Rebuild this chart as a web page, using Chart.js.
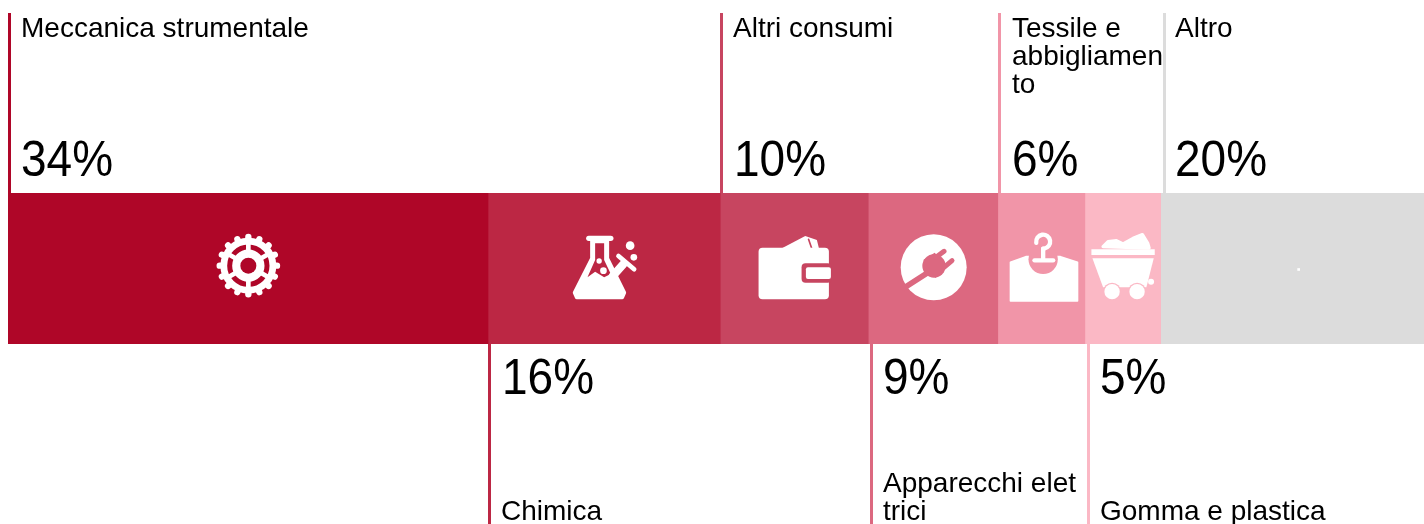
<!DOCTYPE html>
<html>
<head>
<meta charset="utf-8">
<title>Settori</title>
<script src="https://cdn.jsdelivr.net/npm/chart.js@4"></script>
<style>
  html, body { margin: 0; padding: 0; background: #fff; overflow: hidden; }
  canvas { display: block; }
</style>
</head>
<body>
<canvas id="sectorChart" width="1424" height="524"></canvas>
<script>
const categories = ['Meccanica strumentale', 'Chimica', 'Altri consumi', 'Apparecchi elettrici', 'Tessile e abbigliamento', 'Gomma e plastica', 'Altro'];
const shares = [33.9, 16.4, 10.45, 9.15, 6.15, 5.35, 18.6];
const percentLabels = ['34%', '16%', '10%', '9%', '6%', '5%', '20%'];
const categoryLines = [
  ['Meccanica strumentale'],
  ['Chimica'],
  ['Altri consumi'],
  ['Apparecchi elet', 'trici'],
  ['Tessile e', 'abbigliamen', 'to'],
  ['Gomma e plastica'],
  ['Altro']
];
const colors = ['#af0628', '#bc2744', '#c74560', '#dc6880', '#f195a8', '#fbb8c5', '#dcdcdc'];

const LINE_W = 3;
const lineNudge = [0, 0, 0, 2, 0, 2, 2];
const textNudge = [0, 0, 0, 0, 1, 0, -1];
const percentNudge = [0, 1, 1, 0, 0, 0, 0];
const LABEL_FONT = '28px "Liberation Sans"';
const PERCENT_FONT = '46px "Liberation Sans"';

// icons are drawn in a 3x grid, (ox, oy) is the middle of the segment
function withGrid(ctx, cx, cy, ox, oy, draw) {
  ctx.save();
  ctx.translate(cx, cy);
  ctx.scale(1 / 3, 1 / 3);
  ctx.translate(-ox, -oy);
  ctx.lineCap = 'round';
  ctx.lineJoin = 'round';
  draw();
  ctx.restore();
}

function circle(ctx, x, y, r, color) {
  ctx.fillStyle = color;
  ctx.beginPath();
  ctx.arc(x, y, r, 0, Math.PI * 2);
  ctx.fill();
}

function poly(ctx, pts, color, round) {
  ctx.fillStyle = color;
  ctx.beginPath();
  pts.forEach((p, i) => i ? ctx.lineTo(p[0], p[1]) : ctx.moveTo(p[0], p[1]));
  ctx.closePath();
  ctx.fill();
  if (round) {
    ctx.strokeStyle = color;
    ctx.lineWidth = round;
    ctx.stroke();
  }
}

function seg(ctx, x1, y1, x2, y2, w, color) {
  ctx.strokeStyle = color;
  ctx.lineWidth = w;
  ctx.beginPath();
  ctx.moveTo(x1, y1);
  ctx.lineTo(x2, y2);
  ctx.stroke();
}

const icons = [
  (ctx, cx, cy, bg) => withGrid(ctx, cx, cy, 744, 265.5, () => {
    const x = 745, y = 257;
    circle(ctx, x, y, 84, '#fff');
    for (let i = 0; i < 16; i++) {
      const a = i * Math.PI / 8;
      seg(ctx, x + 76 * Math.cos(a), y + 76 * Math.sin(a), x + 86 * Math.cos(a), y + 86 * Math.sin(a), 19, '#fff');
    }
    ctx.strokeStyle = bg;
    ctx.lineWidth = 15;
    ctx.beginPath();
    ctx.arc(x, y, 56, 0, Math.PI * 2);
    ctx.stroke();
    [30, 90, 150, 210, 270, 330].forEach(d => {
      const a = d * Math.PI / 180;
      seg(ctx, x + 40 * Math.cos(a), y + 40 * Math.sin(a), x + 70 * Math.cos(a), y + 70 * Math.sin(a), 14, '#fff');
    });
    circle(ctx, x, y, 24, bg);
  }),
  (ctx, cx, cy, bg) => withGrid(ctx, cx, cy, 372, 265.5, () => {
    poly(ctx, [[336, 180], [381, 180], [381, 235], [432, 338], [426, 352], [290, 352], [284, 338], [336, 235]], '#fff', 12);
    seg(ctx, 326, 175, 392, 175, 16, '#fff');
    poly(ctx, [[345, 190], [372, 190], [372, 240], [392, 282], [372, 292], [345, 275], [322, 292], [345, 240]], bg);
    circle(ctx, 345, 296, 15, '#fff');
    circle(ctx, 370, 272, 10, '#fff');
    circle(ctx, 357, 243, 8, '#fff');
    seg(ctx, 398, 288, 430, 252, 24, '#fff');
    seg(ctx, 415, 228, 462, 268, 14, '#fff');
    circle(ctx, 450, 197, 13, '#fff');
    circle(ctx, 461, 232, 10, '#fff');
  }),
  (ctx, cx, cy, bg) => withGrid(ctx, cx, cy, 942, 265.5, () => {
    poly(ctx, [[905, 205], [975, 168], [1010, 180], [1016, 205]], '#fff');
    seg(ctx, 985, 178, 994, 204, 5, bg);
    ctx.fillStyle = '#fff';
    ctx.beginPath();
    ctx.roundRect(835, 203, 211, 155, 12);
    ctx.fill();
    ctx.fillStyle = bg;
    ctx.beginPath();
    ctx.roundRect(964, 250, 90, 58, 12);
    ctx.fill();
    ctx.fillStyle = '#fff';
    ctx.beginPath();
    ctx.roundRect(977, 262, 75, 35, 6);
    ctx.fill();
  }),
  (ctx, cx, cy, bg) => withGrid(ctx, cx, cy, 219, 265.5, () => {
    circle(ctx, 221, 262, 99, '#fff');
    seg(ctx, 130, 325, 200, 280, 17, bg);
    circle(ctx, 222, 258, 35, bg);
    poly(ctx, [[190, 240], [224, 218], [262, 258], [226, 294]], bg);
    seg(ctx, 228, 232, 252, 214, 15, bg);
    seg(ctx, 252, 262, 276, 242, 15, bg);
  }),
  (ctx, cx, cy, bg) => withGrid(ctx, cx, cy, 544.5, 265.5, () => {
    poly(ctx, [[452, 247], [498, 230], [602, 230], [653, 247], [653, 363], [452, 363]], '#fff', 5);
    circle(ctx, 550, 238, 44, bg);
    ctx.strokeStyle = '#fff';
    ctx.lineWidth = 13;
    ctx.beginPath();
    ctx.arc(550, 185, 21, Math.PI * 0.95, Math.PI * 2.5);
    ctx.stroke();
    seg(ctx, 550, 206, 550, 238, 13, '#fff');
    seg(ctx, 524, 241, 580, 241, 13, '#fff');
  }),
  (ctx, cx, cy, bg) => withGrid(ctx, cx, cy, 789, 265.5, () => {
    poly(ctx, [[730, 200], [745, 185], [770, 182], [790, 192], [820, 175], [848, 164], [864, 190], [868, 204]], '#fff', 10);
    poly(ctx, [[695, 208], [885, 208], [885, 225], [695, 225]], '#fff');
    poly(ctx, [[698, 235], [882, 235], [860, 322], [730, 322]], '#fff');
    circle(ctx, 757, 335, 27, bg);
    circle(ctx, 832, 335, 27, bg);
    circle(ctx, 757, 335, 23, '#fff');
    circle(ctx, 832, 335, 23, '#fff');
    circle(ctx, 874, 305, 9, '#fff');
  }),
  (ctx, cx, cy) => withGrid(ctx, cx, cy, 0, 0, () => {
    // the small white speck in the grey segment
    ctx.fillStyle = '#fff';
    ctx.fillRect(15, -1, 8, 8);
  })
];

const sectorOverlay = {
  id: 'sectorOverlay',
  afterDatasetsDraw(chart) {
    const ctx = chart.ctx;
    const { top, bottom } = chart.chartArea;
    const midY = (top + bottom) / 2;
    shares.forEach((value, i) => {
      const bar = chart.getDatasetMeta(i).data[0];
      const start = Math.round(bar.base);
      const up = i % 2 === 0;
      const lineX = start + lineNudge[i];

      ctx.fillStyle = colors[i];
      if (up) ctx.fillRect(lineX, 13, LINE_W, top - 13);
      else ctx.fillRect(lineX, bottom, LINE_W, chart.height - bottom);

      const textX = lineX + LINE_W + 10 + textNudge[i];
      const lines = categoryLines[i];
      ctx.fillStyle = '#000';
      ctx.textAlign = 'left';
      ctx.textBaseline = 'alphabetic';
      ctx.font = LABEL_FONT;
      lines.forEach((line, n) => {
        const y = up ? 37 + n * 28 : 520 - (lines.length - 1 - n) * 28;
        ctx.fillText(line, textX, y);
      });

      // the percent figures are a little taller than the font in the reference
      ctx.save();
      ctx.translate(textX + percentNudge[i], up ? 176 : 394);
      ctx.scale(1, 1.08);
      ctx.font = PERCENT_FONT;
      ctx.fillText(percentLabels[i], 0, 0);
      ctx.restore();

      icons[i](ctx, (bar.base + bar.x) / 2, midY, colors[i]);
    });
  }
};

new Chart(document.getElementById('sectorChart').getContext('2d'), {
  type: 'bar',
  data: {
    labels: ['Settori'],
    datasets: categories.map((name, i) => ({
      label: name,
      data: [shares[i]],
      backgroundColor: colors[i],
      borderWidth: 0,
      barPercentage: 1,
      categoryPercentage: 1
    }))
  },
  options: {
    indexAxis: 'y',
    responsive: false,
    animation: false,
    devicePixelRatio: 1,
    layout: { padding: { left: 8, right: 0, top: 193, bottom: 180 } },
    scales: {
      x: { stacked: true, min: 0, max: 100, display: false },
      y: { stacked: true, display: false }
    },
    plugins: { legend: { display: false }, tooltip: { enabled: false } }
  },
  plugins: [sectorOverlay]
});
</script>
</body>
</html>
